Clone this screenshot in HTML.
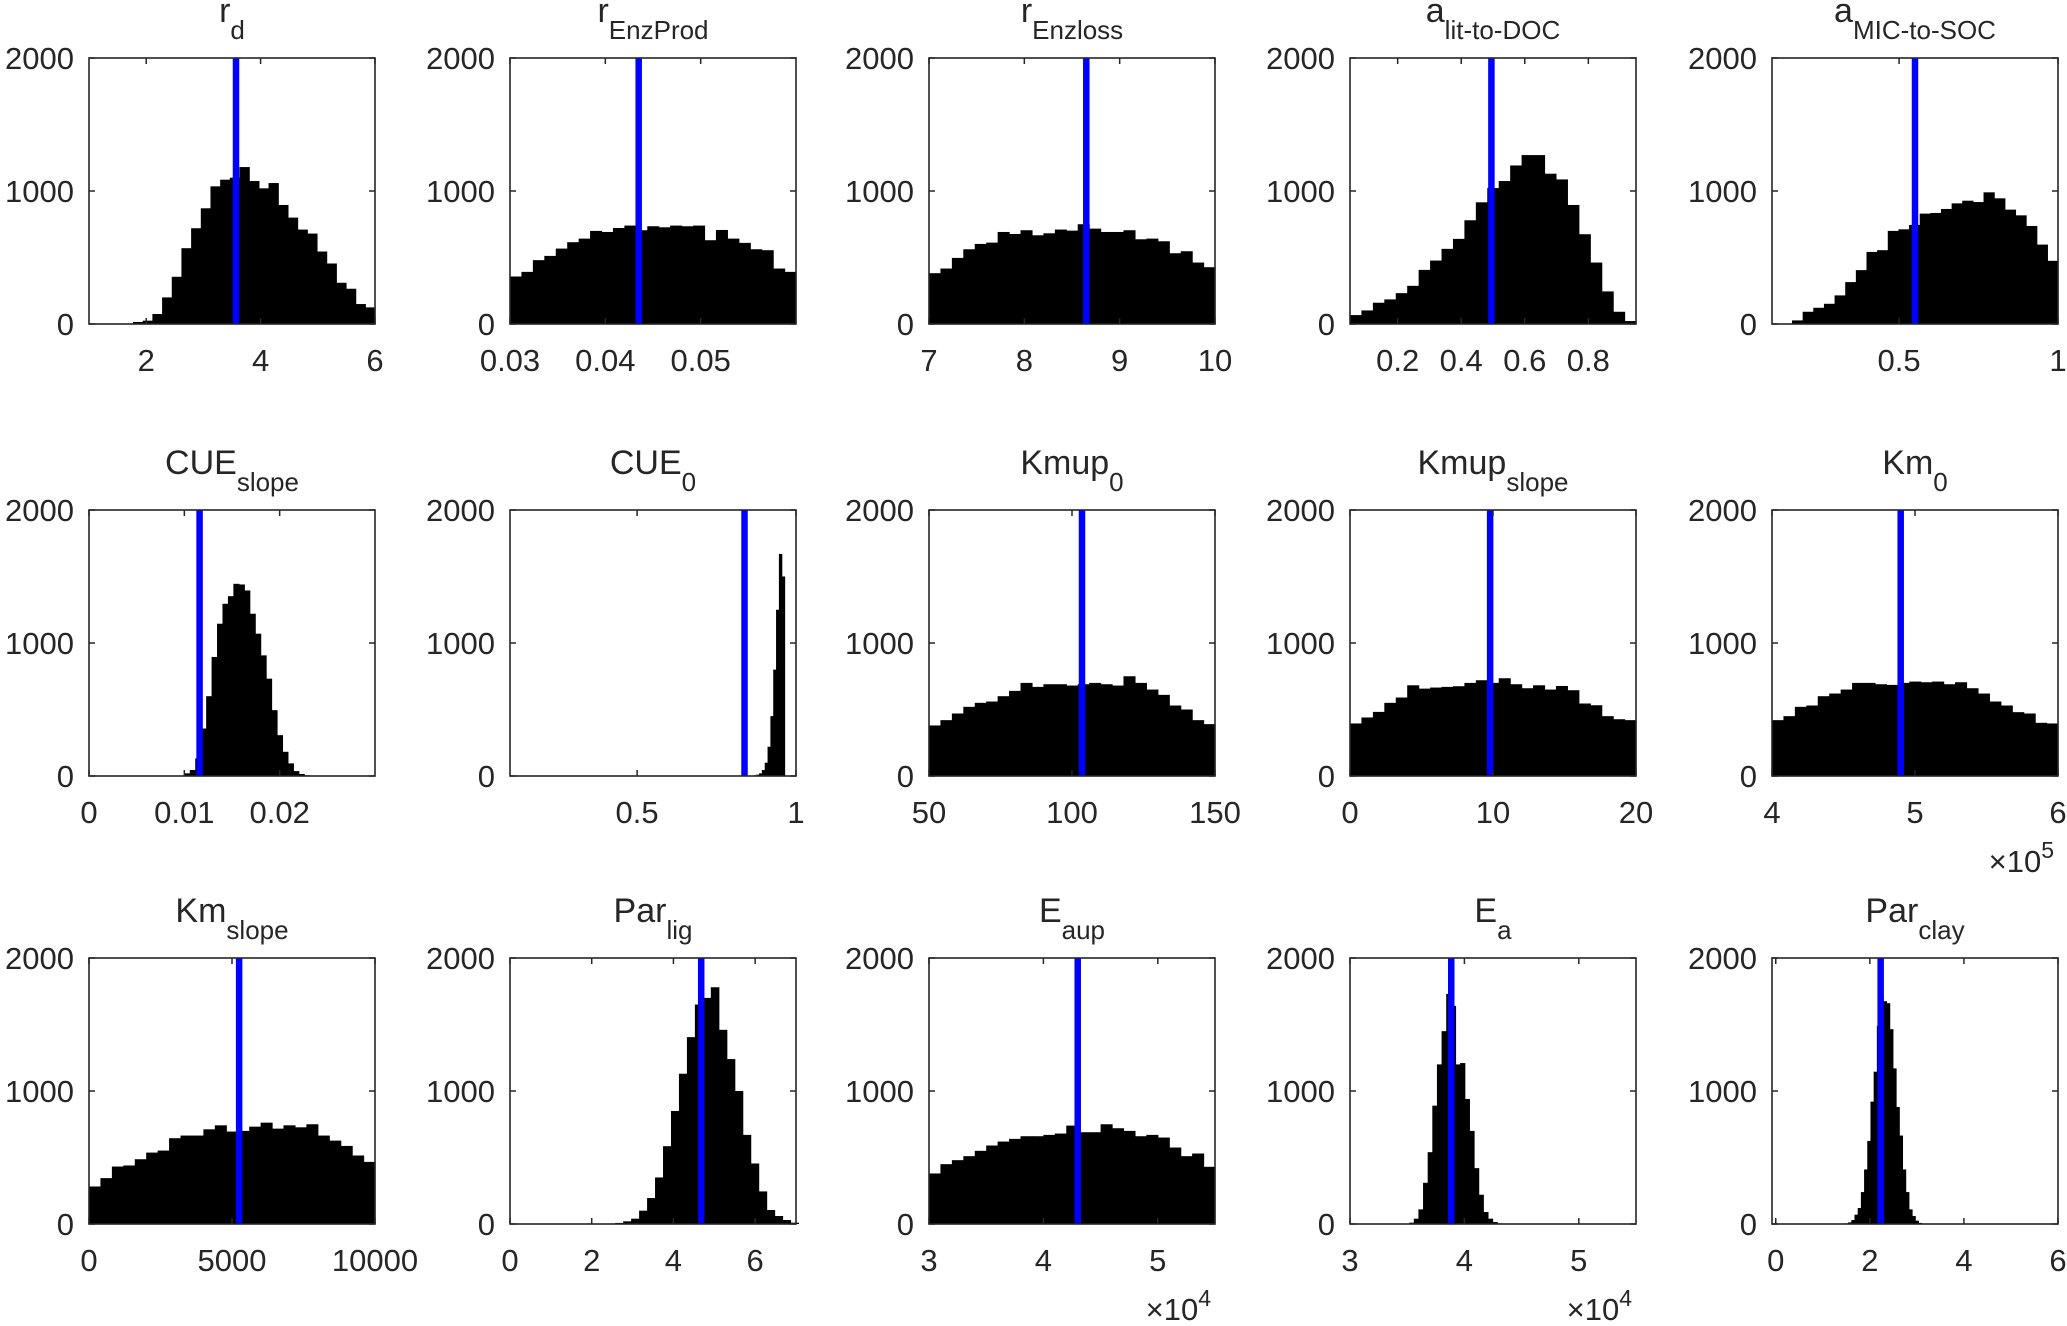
<!DOCTYPE html>
<html><head><meta charset="utf-8"><title>Posterior histograms</title>
<style>
html,body{margin:0;padding:0;background:#fff;}
svg{display:block;}
text{font-family:"Liberation Sans",Arial,sans-serif;fill:#262626;}
</style></head>
<body>
<svg id="fig" width="2067" height="1326" viewBox="0 0 2067 1326" xmlns="http://www.w3.org/2000/svg"></svg>
<script>
// ---- data (counts per bin) ----
const counts_rd = [15,25,75,200,355,570,720,870,1035,1085,1100,1180,1075,1020,1060,895,800,710,680,545,455,310,265,150,125];
const counts_rEnzProd = [357,392,480,512,567,615,642,700,692,722,740,705,735,727,740,735,740,630,707,642,610,562,555,417,392];
const counts_rEnzloss = [382,417,497,562,602,612,692,677,705,667,682,710,702,750,717,692,692,705,637,642,622,532,547,462,427];
const counts_aLit = [67,102,160,185,232,287,407,477,565,640,780,915,1022,1075,1192,1270,1270,1130,1087,895,675,462,245,92,22];
const counts_aMic = [27,92,122,152,215,315,405,542,555,700,712,745,830,835,865,907,927,917,990,945,860,817,737,597,475];
const counts_cueSlope = [20,45,132,357,600,895,1145,1295,1352,1445,1440,1395,1220,1070,907,732,495,307,182,95,37,15,5,3];
const counts_cue0 = [2,5,10,20,45,100,220,450,800,1250,1670,1500];
const counts_kmup0 = [380,420,470,520,550,560,600,640,700,670,690,690,680,690,700,690,680,750,700,650,610,530,500,420,390];
const counts_kmupSlope = [395,440,482,550,590,682,657,665,670,675,700,720,700,735,690,660,682,650,677,645,545,532,450,427,420];
const counts_km0 = [420,450,520,530,600,620,650,700,700,690,685,700,710,705,710,690,705,660,620,560,530,480,470,400,395];
const counts_kmSlope = [282,345,432,440,487,537,552,645,665,665,712,742,695,700,732,762,717,742,727,750,665,627,587,515,467];
const counts_parLig = [3,8,20,40,100,195,350,585,850,1130,1405,1650,1700,1780,1460,1240,1000,670,455,245,105,60,30,10];
const counts_eAup = [380,450,480,510,550,590,620,640,660,660,670,680,740,690,690,750,720,700,660,670,650,575,510,530,430];
const counts_ea = [10,40,110,310,540,890,1200,1450,1730,1640,1200,1210,940,700,420,220,90,40,15,5];
const counts_parClay = [5,12,30,70,120,240,410,625,920,1145,1490,1700,1675,1660,1465,1170,880,665,410,240,110,60,25,8];

// blue reference-line values
const refValues = [3.57,0.0435,8.65,0.495,0.55,0.0116,0.838,103.5,9.8,4.9,5250,4.68,4.3,3.885,2.23];
// tick labels per panel
const xTicks = [[2,4,6],[0.03,0.04,0.05],[7,8,9,10],[0.2,0.4,0.6,0.8],[0.5,1],[0,0.01,0.02],[0.5,1],[50,100,150],[0,10,20],[4,5,6],[0,5000,10000],[0,2,4,6],[3,4,5],[3,4,5],[0,2,4,6]];
const yTicks = [0,1000,2000];
// bin ranges per panel [start, end]
const binRanges = [[1.77,6],[0.03,0.06],[7,10],[0.05,0.95],[0.163,1],[0.01,0.02372],[0.857,0.964],[50,150],[0,20],[4,6],[0,10000],[2.38,7.06],[3,5.5],[3.517,4.327],[1.47,3.10]];
const xDomains = [[1,6],[0.03,0.06],[7,10],[0.05,0.95],[0.1,1],[0,0.03],[0.1,1],[50,150],[0,20],[4,6],[0,10000],[0,7],[3,5.5],[3,5.5],[-0.08,6]];
const allCounts = [counts_rd,counts_rEnzProd,counts_rEnzloss,counts_aLit,counts_aMic,counts_cueSlope,counts_cue0,counts_kmup0,counts_kmupSlope,counts_km0,counts_kmSlope,counts_parLig,counts_eAup,counts_ea,counts_parClay];
const titleMain = ["r","r","r","a","a","CUE","CUE","Kmup","Kmup","Km","Km","Par","E","E","Par"];
const titleSub = ["d","EnzProd","Enzloss","lit-to-DOC","MIC-to-SOC","slope","0","0","slope","0","slope","lig","aup","a","clay"];
const multipliers = {9:"5",12:"4",13:"4"};

// ---- layout ----
const NS="http://www.w3.org/2000/svg";
const svg=document.getElementById('fig');
const colLeft=[89,510,929,1350,1772], rowTop=[58,510,958], AW=286, AH=266, YMAX=2000;
function mk(tag,attrs,parent){const e=document.createElementNS(NS,tag);for(const k in attrs)e.setAttribute(k,attrs[k]);(parent||svg).appendChild(e);return e;}
function fmt(v){return String(v);}

for(let p=0;p<15;p++){
  const L=colLeft[p%5], T=rowTop[Math.floor(p/5)], R=L+AW, B=T+AH;
  const dom=xDomains[p];
  const sx=v=>L+(v-dom[0])/(dom[1]-dom[0])*AW;
  const sy=c=>B-c/YMAX*AH;
  const g=mk('g',{});
  
  
  const cnt=allCounts[p], br=binRanges[p], bw=(br[1]-br[0])/cnt.length;
  for(let i=0;i<cnt.length;i++){
    const x0=sx(br[0]+i*bw), x1=sx(br[0]+(i+1)*bw);
    const r=mk('rect',{x:x0,y:sy(cnt[i]),width:Math.max(0.5,x1-x0+0.6),height:B-sy(cnt[i]),fill:'#000'},g);
    
    
  }
  const bl=mk('line',{x1:sx(refValues[p]),x2:sx(refValues[p]),y1:T,y2:B,stroke:'#0000ff','stroke-width':6.5},g);
  
  
  const box=mk('rect',{x:L,y:T,width:AW,height:AH,fill:'none',stroke:'#262626','stroke-width':1.6},g);
  
  
  xTicks[p].forEach(v=>{
    const x=sx(v);
    mk('line',{x1:x,x2:x,y1:B,y2:B-6,stroke:'#262626','stroke-width':1.5},g);
    mk('line',{x1:x,x2:x,y1:T,y2:T+6,stroke:'#262626','stroke-width':1.5},g);
    const t=mk('text',{x:x,y:B+47,'font-size':31,'text-anchor':'middle'},g);
    t.textContent=fmt(v);
    
    
  });
  yTicks.forEach(v=>{
    const y=sy(v);
    mk('line',{x1:L,x2:L+6,y1:y,y2:y,stroke:'#262626','stroke-width':1.5},g);
    mk('line',{x1:R,x2:R-6,y1:y,y2:y,stroke:'#262626','stroke-width':1.5},g);
    const t=mk('text',{x:L-15,y:y+11,'font-size':31,'text-anchor':'end'},g);
    t.textContent=fmt(v);
    
    
  });
  const tt=mk('text',{x:L+AW/2,y:T-36,'font-size':34,'text-anchor':'middle'},g);
  
  
  const m=mk('tspan',{},tt); m.textContent=titleMain[p];
  const s=mk('tspan',{dy:17,'font-size':26},tt); s.textContent=titleSub[p];
  if(multipliers[p]){
    const et=mk('text',{x:R-4,y:B+96,'font-size':31,'text-anchor':'end'},g);
    
    
    const a=mk('tspan',{},et); a.textContent='\u00d710';
    const b=mk('tspan',{dy:-14,'font-size':23},et); b.textContent=multipliers[p];
  }
}
</script>
</body></html>
